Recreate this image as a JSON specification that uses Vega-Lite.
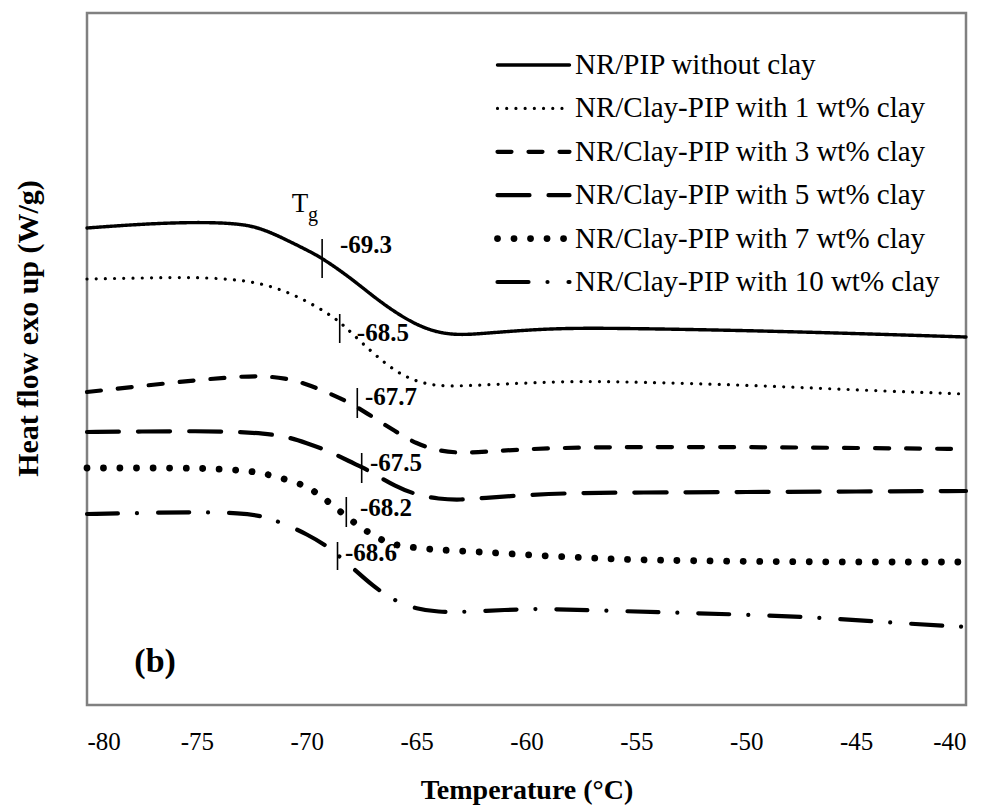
{
  "$schema": "https://vega.github.io/schema/vega-lite/v6.json",
  "width": 879,
  "height": 692,
  "autosize": {"type": "none"},
  "padding": {"left": 87, "top": 13, "right": 21, "bottom": 107},
  "background": "white",
  "config": {
    "font": "Liberation Serif",
    "view": {"stroke": "#808080", "strokeWidth": 2.5},
    "axis": {"grid": false, "ticks": false, "domain": false, "labelColor": "black", "titleColor": "black", "labelFont": "Liberation Serif", "titleFont": "Liberation Serif"},
    "legend": {"labelFont": "Liberation Serif"},
    "text": {"font": "Liberation Serif"}
  },
  "datasets": {
    "curves": [
      {"s": "NR/PIP without clay", "T": -80, "hf": 477},
      {"s": "NR/PIP without clay", "T": -77.5, "hf": 481},
      {"s": "NR/PIP without clay", "T": -75, "hf": 483},
      {"s": "NR/PIP without clay", "T": -73, "hf": 481.5},
      {"s": "NR/PIP without clay", "T": -72, "hf": 476},
      {"s": "NR/PIP without clay", "T": -71, "hf": 466},
      {"s": "NR/PIP without clay", "T": -70, "hf": 455},
      {"s": "NR/PIP without clay", "T": -69.3, "hf": 447},
      {"s": "NR/PIP without clay", "T": -68, "hf": 427},
      {"s": "NR/PIP without clay", "T": -67, "hf": 409},
      {"s": "NR/PIP without clay", "T": -66, "hf": 393},
      {"s": "NR/PIP without clay", "T": -65, "hf": 380},
      {"s": "NR/PIP without clay", "T": -64, "hf": 372},
      {"s": "NR/PIP without clay", "T": -63, "hf": 370},
      {"s": "NR/PIP without clay", "T": -62, "hf": 371.5},
      {"s": "NR/PIP without clay", "T": -60, "hf": 375},
      {"s": "NR/PIP without clay", "T": -58, "hf": 377},
      {"s": "NR/PIP without clay", "T": -55, "hf": 376.5},
      {"s": "NR/PIP without clay", "T": -50, "hf": 374.5},
      {"s": "NR/PIP without clay", "T": -45, "hf": 371.5},
      {"s": "NR/PIP without clay", "T": -40, "hf": 368},

      {"s": "NR/Clay-PIP with 1 wt% clay", "T": -80, "hf": 426},
      {"s": "NR/Clay-PIP with 1 wt% clay", "T": -77.5, "hf": 427},
      {"s": "NR/Clay-PIP with 1 wt% clay", "T": -75, "hf": 428},
      {"s": "NR/Clay-PIP with 1 wt% clay", "T": -73, "hf": 425},
      {"s": "NR/Clay-PIP with 1 wt% clay", "T": -72, "hf": 421},
      {"s": "NR/Clay-PIP with 1 wt% clay", "T": -71, "hf": 414},
      {"s": "NR/Clay-PIP with 1 wt% clay", "T": -70, "hf": 404},
      {"s": "NR/Clay-PIP with 1 wt% clay", "T": -69, "hf": 391},
      {"s": "NR/Clay-PIP with 1 wt% clay", "T": -68.5, "hf": 383},
      {"s": "NR/Clay-PIP with 1 wt% clay", "T": -68, "hf": 373},
      {"s": "NR/Clay-PIP with 1 wt% clay", "T": -67, "hf": 352},
      {"s": "NR/Clay-PIP with 1 wt% clay", "T": -66, "hf": 334},
      {"s": "NR/Clay-PIP with 1 wt% clay", "T": -65, "hf": 323},
      {"s": "NR/Clay-PIP with 1 wt% clay", "T": -64, "hf": 319},
      {"s": "NR/Clay-PIP with 1 wt% clay", "T": -63, "hf": 319},
      {"s": "NR/Clay-PIP with 1 wt% clay", "T": -61, "hf": 321},
      {"s": "NR/Clay-PIP with 1 wt% clay", "T": -58, "hf": 324},
      {"s": "NR/Clay-PIP with 1 wt% clay", "T": -55, "hf": 323},
      {"s": "NR/Clay-PIP with 1 wt% clay", "T": -50, "hf": 320},
      {"s": "NR/Clay-PIP with 1 wt% clay", "T": -45, "hf": 315},
      {"s": "NR/Clay-PIP with 1 wt% clay", "T": -40, "hf": 311},

      {"s": "NR/Clay-PIP with 3 wt% clay", "T": -80, "hf": 313},
      {"s": "NR/Clay-PIP with 3 wt% clay", "T": -77.5, "hf": 319},
      {"s": "NR/Clay-PIP with 3 wt% clay", "T": -75, "hf": 325},
      {"s": "NR/Clay-PIP with 3 wt% clay", "T": -73, "hf": 328.5},
      {"s": "NR/Clay-PIP with 3 wt% clay", "T": -72, "hf": 329},
      {"s": "NR/Clay-PIP with 3 wt% clay", "T": -71, "hf": 327},
      {"s": "NR/Clay-PIP with 3 wt% clay", "T": -70, "hf": 321},
      {"s": "NR/Clay-PIP with 3 wt% clay", "T": -69, "hf": 312},
      {"s": "NR/Clay-PIP with 3 wt% clay", "T": -68, "hf": 302},
      {"s": "NR/Clay-PIP with 3 wt% clay", "T": -67, "hf": 288},
      {"s": "NR/Clay-PIP with 3 wt% clay", "T": -66, "hf": 274},
      {"s": "NR/Clay-PIP with 3 wt% clay", "T": -65, "hf": 261},
      {"s": "NR/Clay-PIP with 3 wt% clay", "T": -64, "hf": 254},
      {"s": "NR/Clay-PIP with 3 wt% clay", "T": -63, "hf": 252},
      {"s": "NR/Clay-PIP with 3 wt% clay", "T": -62, "hf": 253},
      {"s": "NR/Clay-PIP with 3 wt% clay", "T": -60, "hf": 256},
      {"s": "NR/Clay-PIP with 3 wt% clay", "T": -57, "hf": 258},
      {"s": "NR/Clay-PIP with 3 wt% clay", "T": -50, "hf": 258},
      {"s": "NR/Clay-PIP with 3 wt% clay", "T": -45, "hf": 257},
      {"s": "NR/Clay-PIP with 3 wt% clay", "T": -40, "hf": 256},

      {"s": "NR/Clay-PIP with 5 wt% clay", "T": -80, "hf": 273},
      {"s": "NR/Clay-PIP with 5 wt% clay", "T": -77.5, "hf": 273.5},
      {"s": "NR/Clay-PIP with 5 wt% clay", "T": -75, "hf": 274},
      {"s": "NR/Clay-PIP with 5 wt% clay", "T": -73, "hf": 273},
      {"s": "NR/Clay-PIP with 5 wt% clay", "T": -72, "hf": 271.5},
      {"s": "NR/Clay-PIP with 5 wt% clay", "T": -71, "hf": 269},
      {"s": "NR/Clay-PIP with 5 wt% clay", "T": -70, "hf": 262},
      {"s": "NR/Clay-PIP with 5 wt% clay", "T": -69, "hf": 254},
      {"s": "NR/Clay-PIP with 5 wt% clay", "T": -68, "hf": 243},
      {"s": "NR/Clay-PIP with 5 wt% clay", "T": -67.5, "hf": 238},
      {"s": "NR/Clay-PIP with 5 wt% clay", "T": -67, "hf": 232},
      {"s": "NR/Clay-PIP with 5 wt% clay", "T": -66, "hf": 219},
      {"s": "NR/Clay-PIP with 5 wt% clay", "T": -65, "hf": 210},
      {"s": "NR/Clay-PIP with 5 wt% clay", "T": -64, "hf": 206},
      {"s": "NR/Clay-PIP with 5 wt% clay", "T": -63, "hf": 205},
      {"s": "NR/Clay-PIP with 5 wt% clay", "T": -62, "hf": 207},
      {"s": "NR/Clay-PIP with 5 wt% clay", "T": -60, "hf": 210},
      {"s": "NR/Clay-PIP with 5 wt% clay", "T": -58, "hf": 212},
      {"s": "NR/Clay-PIP with 5 wt% clay", "T": -55, "hf": 212.5},
      {"s": "NR/Clay-PIP with 5 wt% clay", "T": -50, "hf": 213},
      {"s": "NR/Clay-PIP with 5 wt% clay", "T": -45, "hf": 213.5},
      {"s": "NR/Clay-PIP with 5 wt% clay", "T": -40, "hf": 214},

      {"s": "NR/Clay-PIP with 7 wt% clay", "T": -80, "hf": 237},
      {"s": "NR/Clay-PIP with 7 wt% clay", "T": -77.5, "hf": 237},
      {"s": "NR/Clay-PIP with 7 wt% clay", "T": -75, "hf": 237},
      {"s": "NR/Clay-PIP with 7 wt% clay", "T": -73, "hf": 235},
      {"s": "NR/Clay-PIP with 7 wt% clay", "T": -72, "hf": 232},
      {"s": "NR/Clay-PIP with 7 wt% clay", "T": -71, "hf": 226},
      {"s": "NR/Clay-PIP with 7 wt% clay", "T": -70, "hf": 219},
      {"s": "NR/Clay-PIP with 7 wt% clay", "T": -69.5, "hf": 211},
      {"s": "NR/Clay-PIP with 7 wt% clay", "T": -69, "hf": 203},
      {"s": "NR/Clay-PIP with 7 wt% clay", "T": -68.5, "hf": 194},
      {"s": "NR/Clay-PIP with 7 wt% clay", "T": -68, "hf": 185},
      {"s": "NR/Clay-PIP with 7 wt% clay", "T": -67.5, "hf": 177},
      {"s": "NR/Clay-PIP with 7 wt% clay", "T": -67, "hf": 170},
      {"s": "NR/Clay-PIP with 7 wt% clay", "T": -66.5, "hf": 164},
      {"s": "NR/Clay-PIP with 7 wt% clay", "T": -66, "hf": 160},
      {"s": "NR/Clay-PIP with 7 wt% clay", "T": -65, "hf": 157},
      {"s": "NR/Clay-PIP with 7 wt% clay", "T": -64, "hf": 155},
      {"s": "NR/Clay-PIP with 7 wt% clay", "T": -62, "hf": 153},
      {"s": "NR/Clay-PIP with 7 wt% clay", "T": -60, "hf": 150},
      {"s": "NR/Clay-PIP with 7 wt% clay", "T": -57, "hf": 147},
      {"s": "NR/Clay-PIP with 7 wt% clay", "T": -55, "hf": 145},
      {"s": "NR/Clay-PIP with 7 wt% clay", "T": -50, "hf": 143.5},
      {"s": "NR/Clay-PIP with 7 wt% clay", "T": -45, "hf": 143},
      {"s": "NR/Clay-PIP with 7 wt% clay", "T": -40, "hf": 143},

      {"s": "NR/Clay-PIP with 10 wt% clay", "T": -80, "hf": 191},
      {"s": "NR/Clay-PIP with 10 wt% clay", "T": -77.5, "hf": 192},
      {"s": "NR/Clay-PIP with 10 wt% clay", "T": -75, "hf": 193},
      {"s": "NR/Clay-PIP with 10 wt% clay", "T": -73, "hf": 192},
      {"s": "NR/Clay-PIP with 10 wt% clay", "T": -72, "hf": 189},
      {"s": "NR/Clay-PIP with 10 wt% clay", "T": -71, "hf": 181},
      {"s": "NR/Clay-PIP with 10 wt% clay", "T": -70, "hf": 171},
      {"s": "NR/Clay-PIP with 10 wt% clay", "T": -69, "hf": 158},
      {"s": "NR/Clay-PIP with 10 wt% clay", "T": -68.6, "hf": 150},
      {"s": "NR/Clay-PIP with 10 wt% clay", "T": -68, "hf": 139},
      {"s": "NR/Clay-PIP with 10 wt% clay", "T": -67, "hf": 119},
      {"s": "NR/Clay-PIP with 10 wt% clay", "T": -66, "hf": 104},
      {"s": "NR/Clay-PIP with 10 wt% clay", "T": -65, "hf": 96},
      {"s": "NR/Clay-PIP with 10 wt% clay", "T": -64, "hf": 93},
      {"s": "NR/Clay-PIP with 10 wt% clay", "T": -63, "hf": 93},
      {"s": "NR/Clay-PIP with 10 wt% clay", "T": -62, "hf": 94},
      {"s": "NR/Clay-PIP with 10 wt% clay", "T": -60, "hf": 96},
      {"s": "NR/Clay-PIP with 10 wt% clay", "T": -59, "hf": 96},
      {"s": "NR/Clay-PIP with 10 wt% clay", "T": -55.75, "hf": 94},
      {"s": "NR/Clay-PIP with 10 wt% clay", "T": -52.7, "hf": 92},
      {"s": "NR/Clay-PIP with 10 wt% clay", "T": -49.5, "hf": 90},
      {"s": "NR/Clay-PIP with 10 wt% clay", "T": -46.3, "hf": 87},
      {"s": "NR/Clay-PIP with 10 wt% clay", "T": -43.15, "hf": 82},
      {"s": "NR/Clay-PIP with 10 wt% clay", "T": -40, "hf": 78}
    ],
    "tg": [
      {"tg": -69.3, "lo": 427, "hi": 466, "label": "-69.3", "lx": -68.49, "ly": 460},
      {"tg": -68.5, "lo": 362, "hi": 391, "label": "-68.5", "lx": -67.72, "ly": 372},
      {"tg": -67.7, "lo": 287, "hi": 317, "label": "-67.7", "lx": -67.35, "ly": 308},
      {"tg": -67.5, "lo": 222, "hi": 252, "label": "-67.5", "lx": -67.12, "ly": 242},
      {"tg": -68.2, "lo": 178, "hi": 208, "label": "-68.2", "lx": -67.58, "ly": 197},
      {"tg": -68.6, "lo": 135, "hi": 163, "label": "-68.6", "lx": -68.26, "ly": 152}
    ],
    "notes": [
      {"T": -70.31, "hf": 501, "main": "T", "sub": "g"}
    ],
    "panel": [
      {"T": -76.9, "hf": 43, "text": "(b)"}
    ]
  },
  "layer": [
    {
      "data": {"name": "curves"},
      "mark": {"type": "line", "interpolate": "basis", "strokeCap": "round", "color": "black"},
      "encoding": {
        "x": {
          "field": "T", "type": "quantitative",
          "scale": {"domain": [-80, -40], "nice": false, "zero": false},
          "axis": {
            "title": "Temperature (°C)",
            "values": [-80, -75, -70, -65, -60, -55, -50, -45, -40],
            "labelExpr": "'-' + abs(datum.value)",
            "labelFontSize": 25, "labelPadding": 24,
            "titleFontSize": 28, "titleFontWeight": "bold", "titlePadding": 22
          }
        },
        "y": {
          "field": "hf", "type": "quantitative",
          "scale": {"domain": [0, 692], "nice": false, "zero": false},
          "axis": {
            "title": "Heat flow exo up (W/g)",
            "labels": false,
            "titleFontSize": 30, "titleFontWeight": "bold",
            "titleX": -59, "titleY": 315, "titleBaseline": "middle", "titleAngle": -90, "titleAlign": "center"
          }
        },
        "detail": {"field": "s", "type": "nominal"},
        "strokeDash": {
          "field": "s", "type": "nominal",
          "scale": {
            "domain": ["NR/PIP without clay", "NR/Clay-PIP with 1 wt% clay", "NR/Clay-PIP with 3 wt% clay", "NR/Clay-PIP with 5 wt% clay", "NR/Clay-PIP with 7 wt% clay", "NR/Clay-PIP with 10 wt% clay"],
            "range": [[1, 0], [0.01, 9.2], [14, 17], [32, 19], [0.01, 16.5], [31, 19, 0.01, 21]]
          },
          "legend": {
            "title": null,
            "orient": "none",
            "legendX": 407,
            "legendY": 37,
            "padding": 0,
            "symbolType": "stroke",
            "symbolSize": 5184,
            "symbolStrokeColor": "black",
            "clipHeight": 30,
            "rowPadding": 13.4,
            "labelFont": "Liberation Serif",
            "labelFontSize": 29,
            "labelColor": "black",
            "labelOffset": 2,
            "labelLimit": 0,
            "encode": {"symbols": {"update": {"strokeCap": {"value": "round"}}}}
          }
        },
        "strokeWidth": {
          "field": "s", "type": "nominal",
          "scale": {
            "type": "ordinal",
            "domain": ["NR/PIP without clay", "NR/Clay-PIP with 1 wt% clay", "NR/Clay-PIP with 3 wt% clay", "NR/Clay-PIP with 5 wt% clay", "NR/Clay-PIP with 7 wt% clay", "NR/Clay-PIP with 10 wt% clay"],
            "range": [3.4, 3.2, 4.2, 4.2, 6.8, 4.2]
          },
          "legend": {
            "title": null,
            "orient": "none",
            "legendX": 407,
            "legendY": 37,
            "padding": 0,
            "symbolType": "stroke",
            "symbolSize": 5184,
            "symbolStrokeColor": "black",
            "clipHeight": 30,
            "rowPadding": 13.4,
            "labelFont": "Liberation Serif",
            "labelFontSize": 29,
            "labelColor": "black",
            "labelOffset": 2,
            "labelLimit": 0,
            "encode": {"symbols": {"update": {"strokeCap": {"value": "round"}}}}
          }
        }
      }
    },
    {
      "data": {"name": "tg"},
      "mark": {"type": "rule", "color": "black", "strokeWidth": 1.6},
      "encoding": {
        "x": {"field": "tg", "type": "quantitative"},
        "y": {"field": "lo", "type": "quantitative"},
        "y2": {"field": "hi"}
      }
    },
    {
      "data": {"name": "tg"},
      "mark": {"type": "text", "align": "left", "baseline": "middle", "font": "Liberation Serif", "fontWeight": "bold", "fontSize": 25, "color": "black"},
      "encoding": {
        "x": {"field": "lx", "type": "quantitative"},
        "y": {"field": "ly", "type": "quantitative"},
        "text": {"field": "label"}
      }
    },
    {
      "data": {"name": "notes"},
      "mark": {"type": "text", "align": "center", "baseline": "middle", "font": "Liberation Serif", "fontSize": 27, "color": "black"},
      "encoding": {
        "x": {"field": "T", "type": "quantitative"},
        "y": {"field": "hf", "type": "quantitative"},
        "text": {"field": "main"}
      }
    },
    {
      "data": {"name": "notes"},
      "mark": {"type": "text", "align": "center", "baseline": "middle", "font": "Liberation Serif", "fontSize": 20, "dx": 13, "dy": 11, "color": "black"},
      "encoding": {
        "x": {"field": "T", "type": "quantitative"},
        "y": {"field": "hf", "type": "quantitative"},
        "text": {"field": "sub"}
      }
    },
    {
      "data": {"name": "panel"},
      "mark": {"type": "text", "align": "center", "baseline": "middle", "font": "Liberation Serif", "fontSize": 34, "fontWeight": "bold", "color": "black"},
      "encoding": {
        "x": {"field": "T", "type": "quantitative"},
        "y": {"field": "hf", "type": "quantitative"},
        "text": {"field": "text"}
      }
    }
  ]
}
